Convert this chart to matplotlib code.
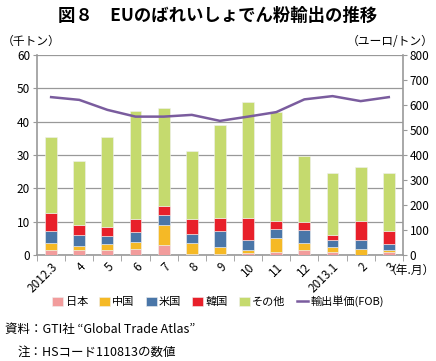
import matplotlib
matplotlib.use("Agg")
import matplotlib.pyplot as plt
import numpy as np

plt.rcParams['font.family'] = ['Noto Sans CJK JP', 'DejaVu Sans']

months = ["2012.3", "4", "5", "6", "7", "8", "9", "10", "11", "12", "2013.1", "2", "3"]
japan = [1.4, 1.5, 1.5, 1.7, 3.0, 0.2, 0.3, 0.6, 1.0, 1.5, 1.0, 0.1, 0.8]
china = [2.3, 1.1, 1.9, 2.1, 6.1, 3.5, 2.0, 1.0, 4.1, 2.1, 1.3, 1.7, 0.7]
usa = [3.5, 3.3, 2.3, 3.1, 2.9, 2.6, 4.9, 3.0, 2.7, 4.0, 2.2, 2.8, 1.9]
korea = [5.4, 3.1, 2.8, 3.9, 2.7, 4.5, 3.9, 6.4, 2.5, 2.4, 1.5, 5.7, 3.9]
other = [22.7, 19.2, 26.8, 32.4, 29.3, 20.4, 27.8, 35.0, 32.7, 19.8, 18.7, 16.2, 17.4]
price = [631, 620, 580, 553, 553, 560, 536, 553, 571, 622, 635, 615, 631]

series = [("日本", japan, "#F29C9C"), ("中国", china, "#F5B926"),
          ("米国", usa, "#4A76A8"), ("韓国", korea, "#E8202A"),
          ("その他", other, "#C5DA6E")]

fig = plt.figure(figsize=(4.36, 3.61), dpi=100)
ax = fig.add_axes([0.085, 0.294, 0.839, 0.554])
x = np.arange(len(months))
bottom = np.zeros(len(months))
handles = []
for name, vals, col in series:
    b = ax.bar(x, vals, 0.42, bottom=bottom, color=col, edgecolor='#f0f0f0',
               linewidth=0.4, label=name, zorder=3)
    handles.append(b)
    bottom += np.array(vals)

ax.set_xlim(-0.5, len(months) - 0.5)
ax.set_ylim(0, 60)
ax.set_yticks(range(0, 61, 10))
ax.yaxis.grid(True, color='#999999', linewidth=0.9, zorder=0)
ax.set_axisbelow(True)
for s in ['top', 'right']:
    ax.spines[s].set_visible(False)
for s in ['left', 'bottom']:
    ax.spines[s].set_color('#999999')
    ax.spines[s].set_linewidth(1.2)
ax.tick_params(axis='y', length=3, color='#999999', labelsize=8.5, pad=2)
ax.set_xticks(x)
ax.set_xticklabels(months, rotation=45, ha='right', rotation_mode='anchor', fontsize=8.5)
ax.tick_params(axis='x', length=0, pad=4)
ax.set_xticks(np.arange(-0.5, len(months), 1), minor=True)
ax.tick_params(axis='x', which='minor', length=4, color='#999999')

ax2 = ax.twinx()
ax2.set_ylim(0, 800)
ax2.set_yticks(range(0, 801, 100))
line, = ax2.plot(x, price, color='#7A5C9E', linewidth=1.8, zorder=4, label="輸出単価(FOB)")
for s in ['top', 'left', 'bottom']:
    ax2.spines[s].set_visible(False)
ax2.spines['right'].set_color('#999999')
ax2.spines['right'].set_linewidth(1.2)
ax2.tick_params(axis='y', length=3, color='#999999', labelsize=8.5, pad=2)

fig.text(0.5, 0.955, "図８　EUのばれいしょでん粉輸出の推移", ha='center', va='center',
         fontsize=12.5, fontweight='bold')
fig.text(0.005, 0.885, "（千トン）", ha='left', va='center', fontsize=8.5)
fig.text(0.995, 0.885, "（ユーロ/トン）", ha='right', va='center', fontsize=8.5)
fig.text(0.998, 0.25, "（年.月）", ha='right', va='center', fontsize=8.5)

leg = fig.legend(handles + [line], [s[0] for s in series] + ["輸出単価(FOB)"],
                 loc='center', bbox_to_anchor=(0.5, 0.165), ncol=6, frameon=False,
                 fontsize=8, handlelength=1.0, handleheight=0.8, handletextpad=0.2,
                 columnspacing=1.0)

fig.text(0.012, 0.088, "資料：GTI社 “Global Trade Atlas”", ha='left', va='center', fontsize=9)
fig.text(0.04, 0.025, "注：HSコード110813の数値", ha='left', va='center', fontsize=9)

fig.savefig("out.png", dpi=100)
